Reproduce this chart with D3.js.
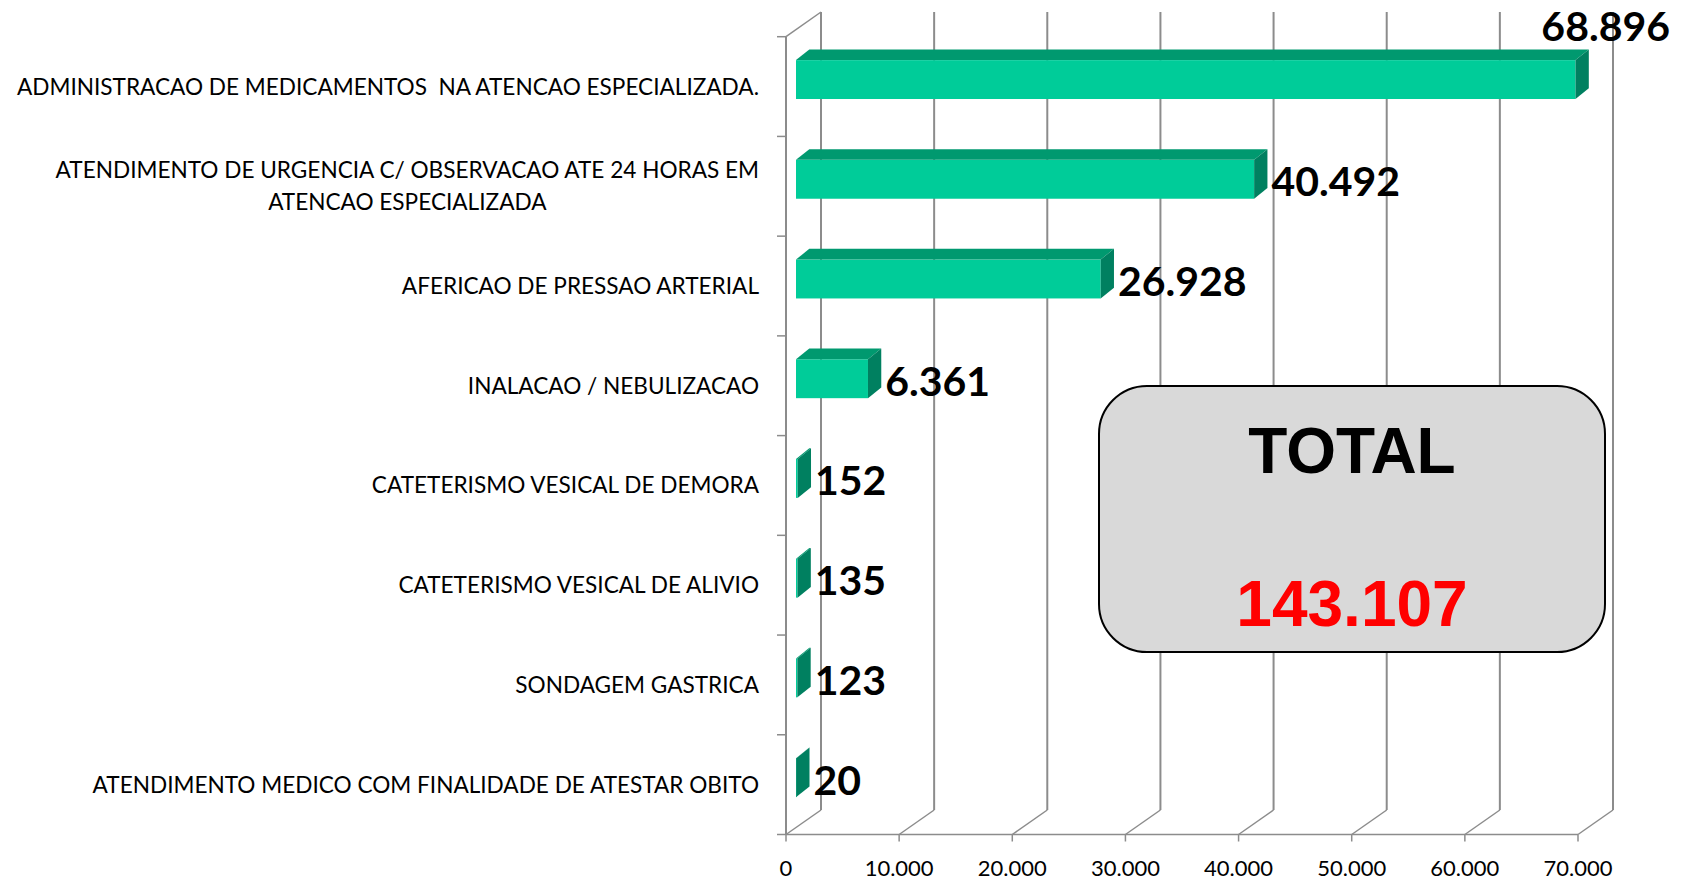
<!DOCTYPE html>
<html>
<head>
<meta charset="utf-8">
<script src="https://cdn.jsdelivr.net/npm/d3@7"></script>
<style>
  body { margin: 0; background: #fff; }
  svg { display: block; }
</style>
</head>
<body>
<svg id="chart"></svg>
<script>
// chart data
const categories = [
  "ADMINISTRACAO DE MEDICAMENTOS  NA ATENCAO ESPECIALIZADA.",
  "ATENDIMENTO DE URGENCIA C/ OBSERVACAO ATE 24 HORAS EM\nATENCAO ESPECIALIZADA",
  "AFERICAO DE PRESSAO ARTERIAL",
  "INALACAO / NEBULIZACAO",
  "CATETERISMO VESICAL DE DEMORA",
  "CATETERISMO VESICAL DE ALIVIO",
  "SONDAGEM GASTRICA",
  "ATENDIMENTO MEDICO COM FINALIDADE DE ATESTAR OBITO"
];
const values = [68896, 40492, 26928, 6361, 152, 135, 123, 20];
const xTicks = [0, 10000, 20000, 30000, 40000, 50000, 60000, 70000];
const totalTitle = "TOTAL";

const width = 1684, height = 881;
const ptBR = d3.formatLocale({ decimal: ",", thousands: ".", grouping: [3], currency: ["R$", ""] });
const fmt = ptBR.format(",d");

// 3d wall depth
const depthX = 35, depthY = -24.5;
// bar depth (front face shift and bar thickness)
const barShiftX = 10, barShiftY = -7;
const barDX = 13.3, barDY = -10.7;

const svg = d3.select("#chart")
  .attr("width", width)
  .attr("height", height);

const xScale = d3.scaleLinear()
  .domain([0, 70000])
  .range([786, 1578]);

const yScale = d3.scaleBand()
  .domain(categories)
  .range([36.7, 834.5]);

const gridColor = "#8c8c8c";
const yFloor = yScale.range()[1];
const yTop = yScale.range()[0];
const wallTop = 12;

// back wall gridlines
const grid = svg.append("g");
xTicks.forEach(t => {
  grid.append("line")
    .attr("x1", xScale(t) + depthX).attr("x2", xScale(t) + depthX)
    .attr("y1", wallTop).attr("y2", yFloor + depthY)
    .attr("stroke", gridColor).attr("stroke-width", 2);
  // floor diagonal
  grid.append("line")
    .attr("x1", xScale(t)).attr("y1", yFloor)
    .attr("x2", xScale(t) + depthX).attr("y2", yFloor + depthY)
    .attr("stroke", gridColor).attr("stroke-width", 1.5);
  // tick below the floor
  grid.append("line")
    .attr("x1", xScale(t)).attr("x2", xScale(t))
    .attr("y1", yFloor).attr("y2", yFloor + 7)
    .attr("stroke", gridColor).attr("stroke-width", 1.5);
});

// front floor edge
grid.append("line")
  .attr("x1", xScale(0)).attr("x2", xScale(70000))
  .attr("y1", yFloor).attr("y2", yFloor)
  .attr("stroke", gridColor).attr("stroke-width", 1.5);

// left wall: front axis, top diagonal, ticks
grid.append("line")
  .attr("x1", xScale(0)).attr("x2", xScale(0))
  .attr("y1", yTop).attr("y2", yFloor)
  .attr("stroke", gridColor).attr("stroke-width", 2);
grid.append("line")
  .attr("x1", xScale(0)).attr("y1", yTop)
  .attr("x2", xScale(0) + depthX).attr("y2", wallTop)
  .attr("stroke", gridColor).attr("stroke-width", 1.5);

const bandEdges = categories.map(c => yScale(c)).concat([yFloor]);
bandEdges.forEach(yy => {
  grid.append("line")
    .attr("x1", xScale(0) - 9).attr("x2", xScale(0))
    .attr("y1", yy).attr("y2", yy)
    .attr("stroke", gridColor).attr("stroke-width", 1.5);
});

// total box (sits on the back wall)
const total = d3.sum(values);
const box = svg.append("g");
box.append("rect")
  .attr("x", 1099).attr("y", 386)
  .attr("width", 506).attr("height", 266)
  .attr("rx", 48).attr("ry", 48)
  .attr("fill", "#d9d9d9")
  .attr("stroke", "#000")
  .attr("stroke-width", 2);
box.append("text")
  .attr("x", 1352).attr("y", 473)
  .attr("text-anchor", "middle")
  .style("font-family", "'Liberation Sans', Arial, sans-serif")
  .style("font-weight", "bold")
  .style("font-size", "64px")
  .attr("fill", "#000")
  .text(totalTitle);
box.append("text")
  .attr("x", 1352).attr("y", 626)
  .attr("text-anchor", "middle")
  .style("font-family", "'Liberation Sans', Arial, sans-serif")
  .style("font-weight", "bold")
  .style("font-size", "64px")
  .attr("fill", "#ff0000")
  .text(fmt(total));

// bars
const barH = yScale.step() * 0.39;
const bars = svg.append("g");
categories.forEach((c, i) => {
  const v = values[i];
  const cy = yScale(c) + yScale.bandwidth() / 2;
  const fx0 = xScale(0) + barShiftX;
  const fx1 = xScale(v) + barShiftX;
  const ft = cy + barShiftY - barH / 2;
  const fb = cy + barShiftY + barH / 2;

  bars.append("rect")
    .attr("x", fx0).attr("y", ft)
    .attr("width", Math.max(fx1 - fx0, 0.8)).attr("height", fb - ft)
    .attr("fill", "#00cc99");

  bars.append("polygon")
    .attr("points", [[fx0, ft], [fx1, ft], [fx1 + barDX, ft + barDY], [fx0 + barDX, ft + barDY]].join(" "))
    .attr("fill", "#00996f");

  bars.append("polygon")
    .attr("points", [[fx1, ft], [fx1 + barDX, ft + barDY], [fx1 + barDX, fb + barDY], [fx1, fb]].join(" "))
    .attr("fill", "#008060");

  // value label
  const lbl = bars.append("text")
    .style("font-family", "Lato, 'Open Sans', sans-serif")
    .style("font-weight", "bold")
    .style("font-size", "41px")
    .attr("fill", "#000")
    .text(fmt(v));
  let lx = fx1 + barDX + 4;
  let ly = cy + 10;
  const w = lbl.node().getComputedTextLength();
  if (lx + w > width - 10) {
    // no room on the right: put it above the bar end
    lx = width - 14 - w;
    ly = yScale(c) + 4;
  }
  lbl.attr("x", lx).attr("y", ly);
});

// category labels
const catG = svg.append("g")
  .style("font-family", "Lato, 'Open Sans', sans-serif")
  .style("font-size", "22.6px")
  .attr("fill", "#000");
const labelRight = 759;
categories.forEach(c => {
  const cy = yScale(c) + yScale.bandwidth() / 2;
  const lines = c.split("\n");
  if (lines.length === 1) {
    catG.append("text")
      .attr("x", labelRight).attr("y", cy + 8)
      .attr("text-anchor", "end")
      .style("white-space", "pre")
      .text(lines[0]);
  } else {
    const first = catG.append("text")
      .attr("x", labelRight).attr("y", cy - 16 + 8)
      .attr("text-anchor", "end")
      .style("white-space", "pre")
      .text(lines[0]);
    const w = first.node().getComputedTextLength();
    catG.append("text")
      .attr("x", labelRight - w / 2).attr("y", cy + 16 + 8)
      .attr("text-anchor", "middle")
      .text(lines[1]);
  }
});

// x axis labels
const axisG = svg.append("g")
  .style("font-family", "Lato, 'Open Sans', sans-serif")
  .style("font-size", "22px")
  .attr("fill", "#000");
xTicks.forEach(t => {
  axisG.append("text")
    .attr("x", xScale(t)).attr("y", 876)
    .attr("text-anchor", "middle")
    .text(fmt(t));
});
</script>
</body>
</html>
